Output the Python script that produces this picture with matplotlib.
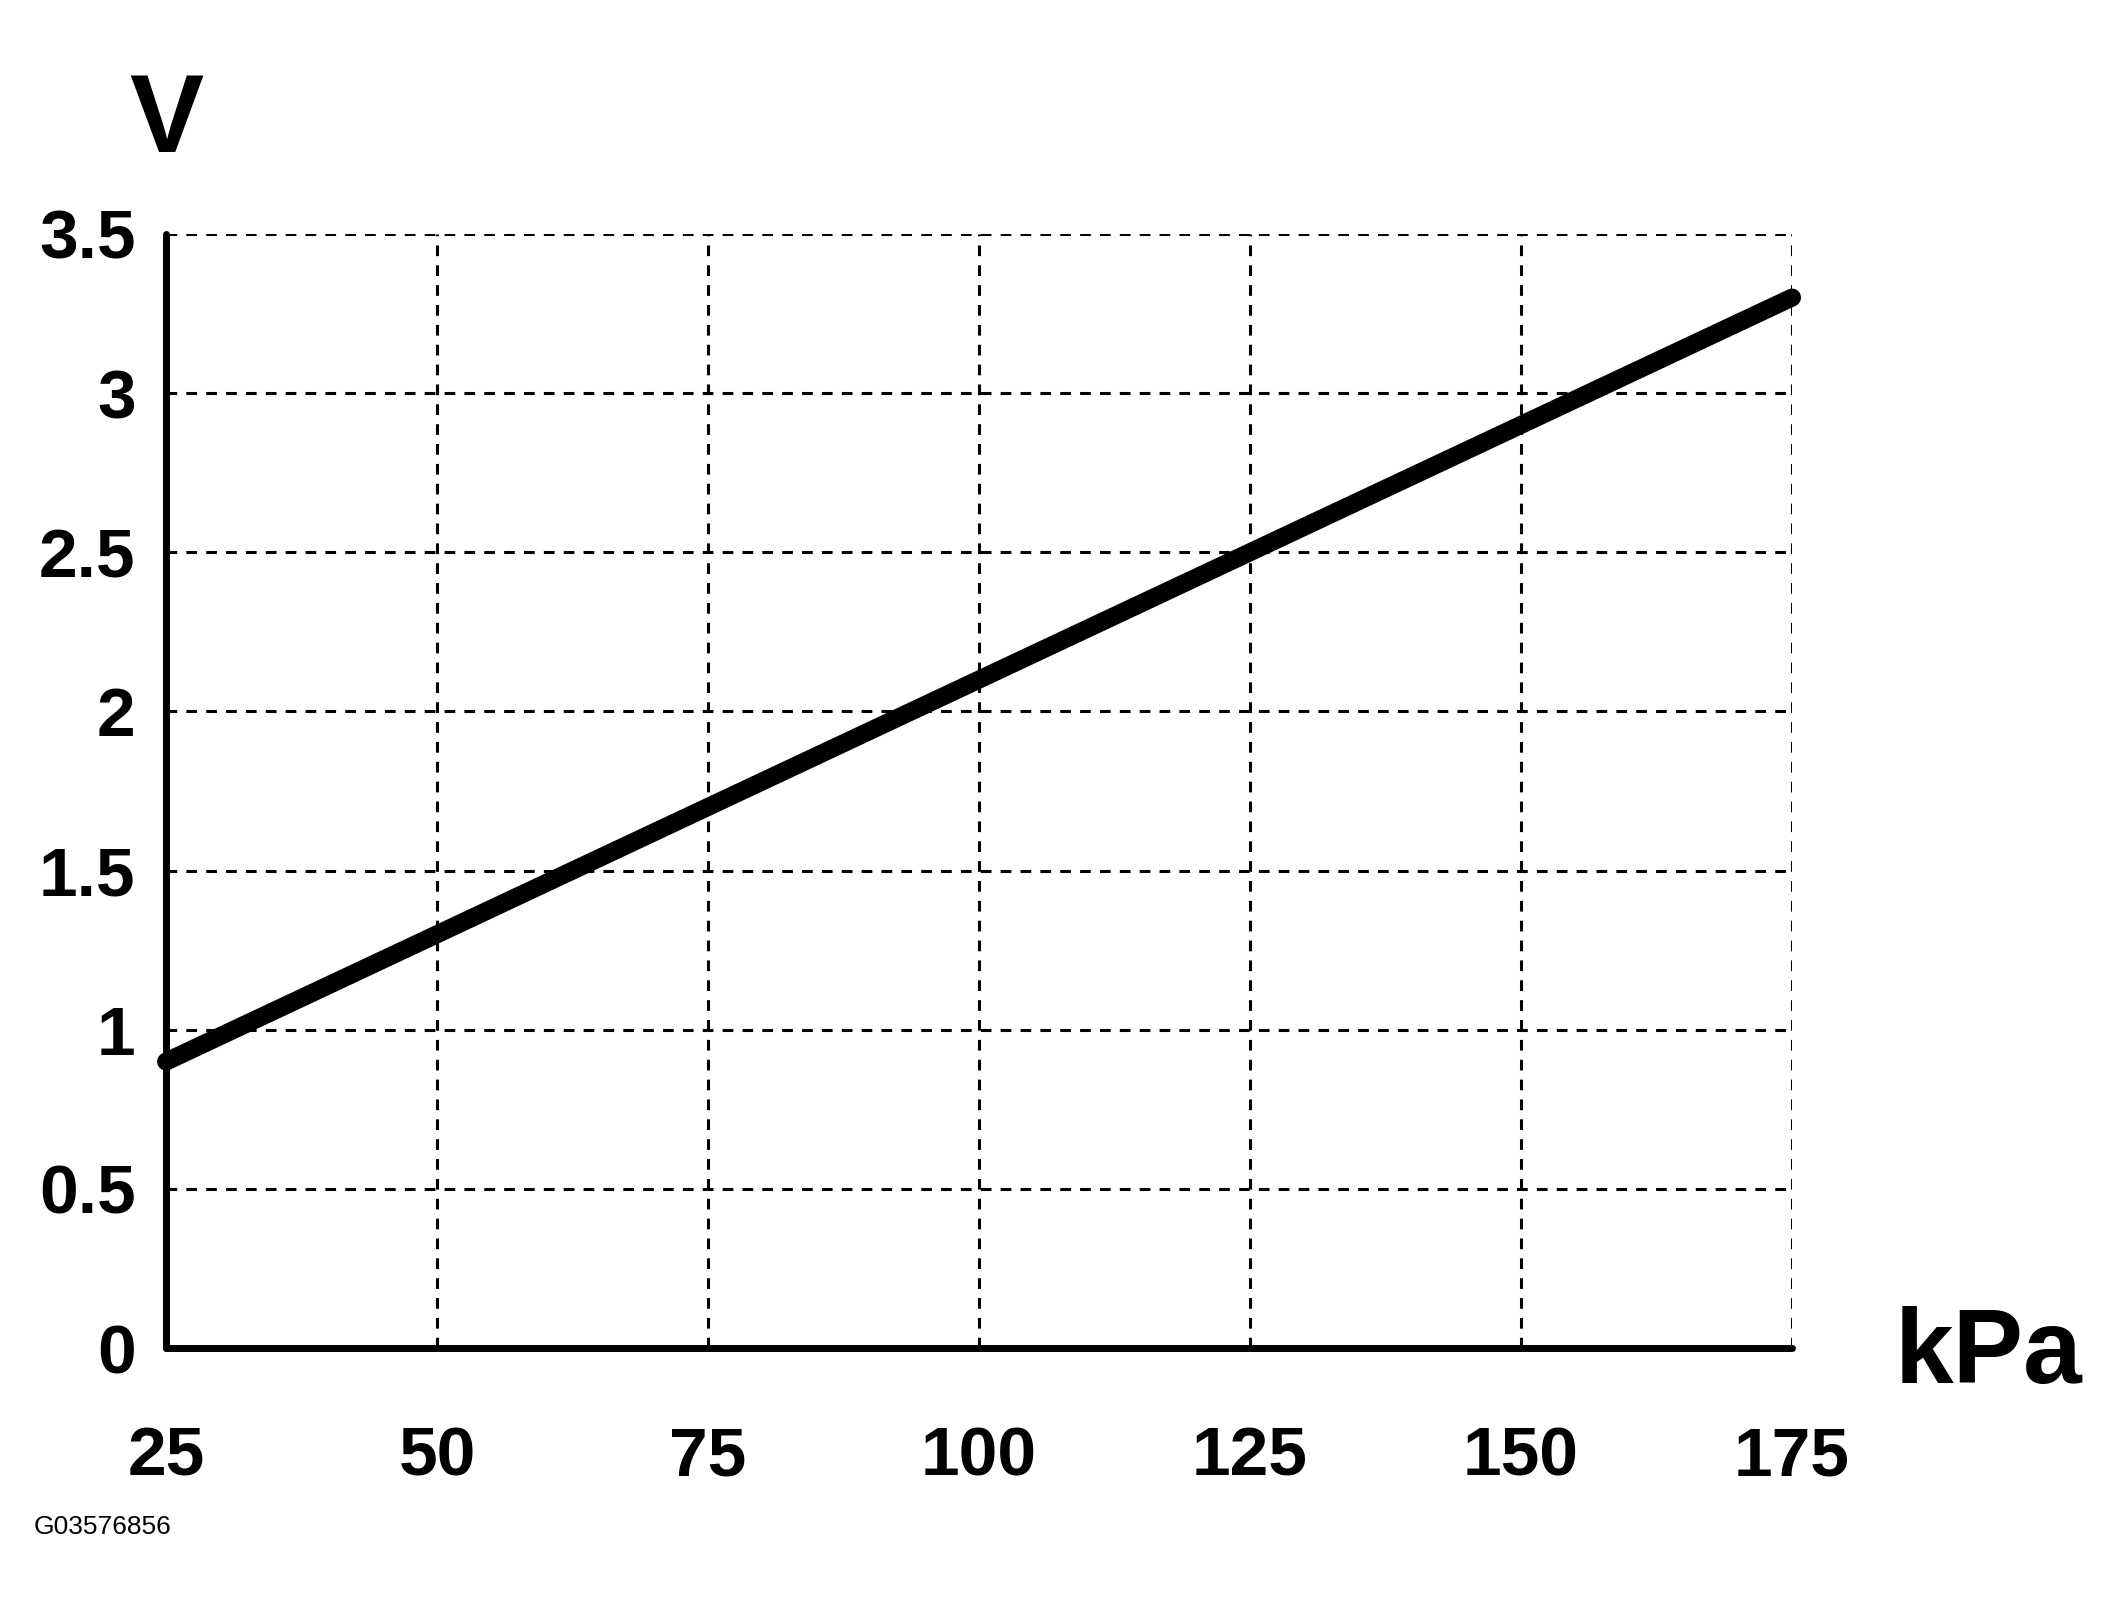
import matplotlib
matplotlib.use("Agg")
import matplotlib.pyplot as plt

pressure_kpa = [25, 175]
voltage_v = [0.9, 3.3]
x_ticks = [25, 50, 75, 100, 125, 150, 175]
y_ticks = [0, 0.5, 1, 1.5, 2, 2.5, 3, 3.5]
y_tick_labels = ["0", "0.5", "1", "1.5", "2", "2.5", "3", "3.5"]

plt.rcParams['font.family'] = ['Liberation Sans', 'DejaVu Sans']

fig = plt.figure(figsize=(21.24, 16.02), dpi=100)
ax = fig.add_axes([0.0782, 0.1585, 0.8437 - 0.0782, 0.854 - 0.1585])

ax.plot(pressure_kpa, voltage_v, color='black', lw=13, solid_capstyle='round', clip_on=False, zorder=5)

ax.set_xlim(25, 175)
ax.set_ylim(0, 3.5)
ax.set_xticks(x_ticks)
ax.set_yticks(y_ticks)
ax.set_yticklabels(y_tick_labels)
for s in ['top', 'right']:
    ax.spines[s].set_visible(False)
for s in ['left', 'bottom']:
    ax.spines[s].set_linewidth(5)
    ax.spines[s].set_capstyle('round')
ax.grid(True, color='black', linestyle=(0, (3.5, 3.0)), linewidth=2.2)
ax.set_axisbelow(True)
ax.tick_params(axis='both', length=0, labelsize=50)
ax.tick_params(axis='y', pad=22)
ax.tick_params(axis='x', pad=56)
for lab in ax.get_xticklabels() + ax.get_yticklabels():
    lab.set_fontweight('bold')

fig.text(166 / 2124, 1 - 123 / 1602, "V", fontsize=80, fontweight='bold', ha='center', va='center')
fig.text(1988 / 2124, 1 - 1355 / 1602, "kPa", fontsize=76, fontweight='bold', ha='center', va='center')
fig.text(34 / 2124, 1 - 1527 / 1602, "G03576856", fontsize=19, ha='left', va='center')

fig.savefig("out.png", dpi=100)
